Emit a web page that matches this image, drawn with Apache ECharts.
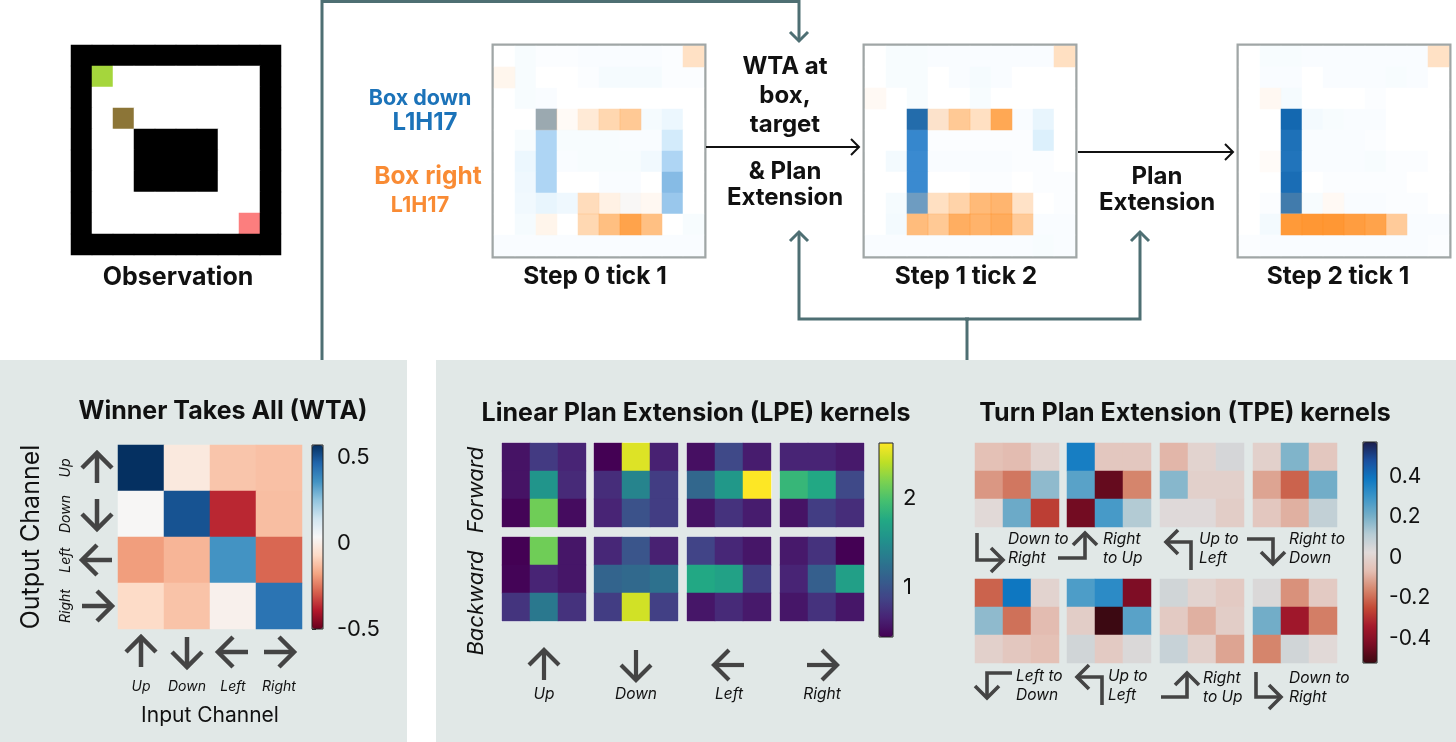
<!DOCTYPE html>
<html>
<head>
<meta charset="utf-8">
<script src="https://cdn.jsdelivr.net/npm/echarts@6/dist/echarts.min.js"></script>
<style>
  html, body { margin: 0; padding: 0; background: #fff; }
  #main { width: 1456px; height: 742px; }
</style>
</head>
<body>
<div id="main"></div>
<script>
// ---- data ----
// observation: 0 floor, 1 wall, 2 target, 3 box, 4 agent
const obsCodes = [
  [1,1,1,1,1,1,1,1,1,1],
  [1,2,0,0,0,0,0,0,0,1],
  [1,0,0,0,0,0,0,0,0,1],
  [1,0,3,0,0,0,0,0,0,1],
  [1,0,0,1,1,1,1,0,0,1],
  [1,0,0,1,1,1,1,0,0,1],
  [1,0,0,1,1,1,1,0,0,1],
  [1,0,0,0,0,0,0,0,0,1],
  [1,0,0,0,0,0,0,0,4,1],
  [1,1,1,1,1,1,1,1,1,1]
];
const obsColors = ['#ffffff', '#000000', '#a5d63c', '#8c7537', '#fc7e7e'];

const stepTitles = ['Step 0 tick 1', 'Step 1 tick 2', 'Step 2 tick 1'];

// "Box down" probe (blue) and "Box right" probe (orange), 10x10
const step0Down = [
  [0,.04,.02,.02,.03,.03,.03,.03,.02,0],
  [0,.04,0,0,.02,.05,.05,.05,.02,.02],
  [0,.04,.03,0,0,0,0,0,0,0],
  [0,0,.6,0,0,0,0,.05,.1,0],
  [0,.04,.38,.04,.04,.04,.03,.03,.22,0],
  [0,.1,.38,.03,.04,.04,.04,.07,.38,0],
  [0,.08,.38,0,0,.03,.03,0,.55,0],
  [0,.07,.12,.08,0,0,.03,0,.47,0],
  [0,.05,0,0,0,0,0,0,0,.04],
  [.03,.03,.03,.03,.03,.03,.03,.03,.03,.03]
];
const step0Right = [
  [0,0,0,0,0,0,0,0,0,.26],
  [.08,0,0,0,0,0,0,0,0,0],
  [0,0,0,0,0,0,0,0,0,0],
  [0,0,.25,.04,.18,.35,.47,0,0,0],
  [0,0,0,0,0,0,0,0,0,0],
  [0,0,0,0,0,0,0,0,0,0],
  [0,0,0,0,0,0,0,0,0,0],
  [0,0,0,0,.3,.12,.04,.06,0,0],
  [0,0,.09,0,.34,.56,.8,.55,0,0],
  [0,0,0,0,0,0,0,0,0,0]
];
const step1Down = [
  [0,.04,.04,.03,.03,.03,.03,.03,.03,0],
  [0,.04,.04,0,.03,.05,.03,0,0,0],
  [0,0,.04,0,0,.04,0,0,0,0],
  [0,0,.98,.02,0,0,0,.03,.12,0],
  [0,0,.82,.02,.02,.02,.02,.02,.18,0],
  [0,.06,.8,.03,.03,.03,.03,.02,.02,0],
  [0,0,.8,0,0,.02,.02,0,.02,.02],
  [0,.05,.7,0,0,0,0,0,0,.02],
  [0,.06,0,0,0,0,0,0,.03,.03],
  [.03,.03,.03,.03,.03,.03,.03,.03,.04,.03]
];
const step1Right = [
  [0,0,0,0,0,0,0,0,0,.27],
  [0,0,0,0,0,0,0,0,0,0],
  [.05,0,0,0,0,0,0,0,0,0],
  [0,0,.05,.23,.47,.27,.76,0,0,0],
  [0,0,0,0,0,0,0,0,0,0],
  [0,0,0,0,0,0,0,0,0,0],
  [0,0,0,0,0,0,0,0,0,0],
  [0,0,.12,.27,.38,.6,.64,.25,0,0],
  [0,0,.58,.47,.7,.66,.72,.46,0,0],
  [0,0,0,0,0,0,0,0,0,0]
];
const step2Down = [
  [0,.04,.04,.03,.03,.03,.03,.03,.03,0],
  [0,.03,.03,0,.03,.03,.03,.04,.03,0],
  [0,0,.05,0,0,0,.02,0,0,0],
  [0,0,1,.06,.04,.03,.03,0,0,0],
  [0,0,.95,.03,.03,.03,.02,0,0,0],
  [0,0,.93,.03,.03,.03,.04,.02,.02,0],
  [0,0,.97,0,.02,.02,.02,.02,0,0],
  [0,.02,.9,.04,0,.03,.03,.02,.02,0],
  [0,.06,0,0,0,0,0,0,.03,.03],
  [.02,.03,.03,.03,.03,.03,.03,.03,.03,.02]
];
const step2Right = [
  [0,0,0,0,0,0,0,0,0,.26],
  [0,0,0,0,0,0,0,0,0,0],
  [0,.06,0,0,0,0,0,0,0,0],
  [0,0,0,0,0,0,0,0,0,0],
  [0,0,0,0,0,0,0,0,0,0],
  [0,.03,0,0,0,0,0,0,0,0],
  [0,0,0,0,0,0,0,0,0,0],
  [0,0,.12,0,.05,0,0,0,0,0],
  [0,0,.88,.9,.9,.85,.8,.45,0,0],
  [0,0,0,0,0,0,0,0,0,0]
];

const dirLabels = ['Up', 'Down', 'Left', 'Right'];

// WTA: rows = output channel, cols = input channel
const wtaValues = [
  [0.57, -0.02, -0.115, -0.125],
  [0.03, 0.50, -0.37, -0.13],
  [-0.19, -0.147, 0.356, -0.275],
  [-0.07, -0.12, 0.01, 0.43]
];
const wtaTicks = [-0.5, 0, 0.5];

const lpeRows = ['Forward', 'Backward'];
const lpeForward = [
  [[0.55,0.81,0.66],[0.55,1.57,0.70],[0.46,2.14,0.51]],
  [[0.44,2.51,0.64],[0.72,1.42,0.83],[0.66,0.99,0.83]],
  [[0.53,0.92,0.61],[1.16,1.60,2.62],[0.55,0.75,0.61]],
  [[0.66,0.66,0.59],[1.88,1.75,0.92],[0.55,0.83,0.72]]
];
const lpeBackward = [
  [[0.44,2.14,0.57],[0.46,0.66,0.57],[0.77,1.31,0.75]],
  [[0.68,1.01,0.64],[1.14,1.18,1.25],[0.83,2.47,0.85]],
  [[0.88,0.68,0.57],[1.75,1.68,0.83],[0.57,0.70,0.59]],
  [[0.59,0.75,0.44],[0.66,1.09,1.66],[0.57,0.75,0.57]]
];
const lpeTicks = [1, 2];

const tpeTop = [
  [[-0.06,-0.07,0.0],[-0.13,-0.18,0.17],[0.02,0.22,-0.27]],
  [[0.37,-0.04,-0.04],[0.25,-0.46,-0.16],[-0.44,0.28,0.12]],
  [[-0.08,0.0,0.05],[0.18,-0.01,-0.01],[0.03,0.03,-0.02]],
  [[-0.01,0.19,-0.04],[-0.11,-0.21,0.21],[-0.04,-0.09,0.09]]
];
const tpeBottom = [
  [[-0.21,0.39,0.0],[0.17,-0.19,-0.07],[-0.01,-0.04,-0.06]],
  [[0.27,0.33,-0.42],[-0.02,-0.52,0.25],[0.06,-0.03,0.04]],
  [[0.06,0.0,-0.03],[-0.03,-0.09,-0.02],[0.08,-0.01,-0.11]],
  [[0.04,-0.14,-0.03],[0.21,-0.35,-0.17],[-0.16,0.06,0.02]]
];
const tpeTopLabels = ['Down to\nRight', 'Right\nto Up', 'Up to\nLeft', 'Right to\nDown'];
const tpeBottomLabels = ['Left to\nDown', 'Up to\nLeft', 'Right\nto Up', 'Down to\nRight'];
const tpeTicks = [-0.4, -0.2, 0, 0.2, 0.4];

// ---- styling ----
const FONT = 'Inter, "Noto Sans", sans-serif';
const INK = '#111';
const ARROW = '#444';
const LINK = '#4e6f73';
const PANEL = '#e1e8e7';
const BLUE_TXT = '#1c73b9';
const ORANGE_TXT = '#f98b34';

const rdbu = ['#67001f','#b2182b','#d6604d','#f4a582','#fddbc7','#f7f7f7','#d1e5f0','#92c5de','#4393c3','#2166ac','#053061'];
const viridis = ['#440154','#482475','#414487','#355f8d','#2a788e','#21918c','#22a884','#44bf70','#7ad151','#bddf26','#fde725'];
const balance = ['#3c0912','#7a0c24','#a5192c','#c44a36','#d6876e','#e4bfb4','#e1dad9','#b6ccd5','#74aec8','#3c95c8','#0e78c2','#1a4f9e','#1b1d4c'];

const grids = [], xAxes = [], yAxes = [], series = [], graphics = [];

function addGrid(box, rows, cols, gridOpt, xOpt, yOpt) {
  const idx = grids.length;
  grids.push(Object.assign({ left: box.x, top: box.y, width: box.w, height: box.h, show: false }, gridOpt || {}));
  xAxes.push(Object.assign({ gridIndex: idx, type: 'category', data: [...Array(cols).keys()], show: false }, xOpt || {}));
  yAxes.push(Object.assign({ gridIndex: idx, type: 'category', data: [...Array(rows).keys()], inverse: true, show: false }, yOpt || {}));
  return idx;
}

function addHeat(gridIdx, matrix) {
  const data = [];
  matrix.forEach((row, r) => row.forEach((v, c) => data.push([c, r, v])));
  series.push({
    type: 'heatmap', xAxisIndex: gridIdx, yAxisIndex: gridIdx, data,
    itemStyle: { borderWidth: 0 }, emphasis: { disabled: true }, silent: true, progressive: 0
  });
  return series.length - 1;
}

function colorbarAxis(box, min, max, ticks, fontSize, margin) {
  const idx = grids.length;
  grids.push({ left: box.x, top: box.y, width: box.w, height: box.h, show: true,
    borderColor: '#222', borderWidth: 1, backgroundColor: 'transparent', z: 10 });
  xAxes.push({ gridIndex: idx, type: 'value', show: false, min: 0, max: 1 });
  yAxes.push({
    gridIndex: idx, type: 'value', position: 'right', min, max,
    axisLine: { show: false }, splitLine: { show: false },
    axisTick: { show: true, length: 4, customValues: ticks, lineStyle: { color: '#333' } },
    axisLabel: { customValues: ticks, fontSize, margin, color: INK, fontFamily: FONT,
      formatter: v => String(Math.round(v * 10) / 10) }
  });
}

function textEl(text, x, y, style, rotation) {
  return {
    type: 'text', x, y, rotation: rotation || 0, z: 30, silent: true,
    style: Object.assign({ text, fill: INK, fontFamily: FONT, fontSize: 24, fontWeight: 'bold',
      align: 'center', verticalAlign: 'middle' }, style || {})
  };
}

function line(points, color, lw) {
  return { type: 'polyline', z: 25, silent: true, shape: { points },
    style: { stroke: color, lineWidth: lw, fill: null, lineJoin: 'miter', lineCap: 'butt' } };
}

function head(x, y, dir, s, color, lw) {
  const p = {
    up: [[x - s, y + s], [x, y], [x + s, y + s]],
    down: [[x - s, y - s], [x, y], [x + s, y - s]],
    left: [[x + s, y - s], [x, y], [x + s, y + s]],
    right: [[x - s, y - s], [x, y], [x - s, y + s]]
  }[dir];
  return line(p, color, lw);
}

function pathArrow(points, dir, s, color, lw) {
  const tip = points[points.length - 1];
  graphics.push(line(points, color, lw), head(tip[0], tip[1], dir, s, color, lw));
}

function straightArrow(cx, cy, dir, len, s, lw) {
  const h = len / 2;
  const pts = {
    up: [[cx, cy + h], [cx, cy - h]], down: [[cx, cy - h], [cx, cy + h]],
    left: [[cx + h, cy], [cx - h, cy]], right: [[cx - h, cy], [cx + h, cy]]
  }[dir];
  pathArrow(pts, dir, s, ARROW, lw);
}

// ---- panels ----
graphics.push({ type: 'rect', z: -10, silent: true, shape: { x: 0, y: 360, width: 407, height: 382 }, style: { fill: PANEL } });
graphics.push({ type: 'rect', z: -10, silent: true, shape: { x: 436, y: 360, width: 1020, height: 382 }, style: { fill: PANEL } });

// ---- observation ----
const obsGrid = addGrid({ x: 71, y: 45, w: 210, h: 210 }, 10, 10);
const obsSeries = addHeat(obsGrid, obsCodes);
graphics.push(textEl('Observation', 178, 277, { fontSize: 25 }));

// ---- activation steps ----
const stepLeft = [494, 865, 1239];
const stepCenters = [595, 966, 1338];
const downMaps = [step0Down, step1Down, step2Down];
const rightMaps = [step0Right, step1Right, step2Right];
const blueSeries = [], orangeSeries = [];
stepLeft.forEach((x, i) => {
  const g = addGrid({ x, y: 46, w: 210, h: 210 }, 10, 10,
    { show: true, borderColor: '#a0a6a6', borderWidth: 5, backgroundColor: '#fff' });
  blueSeries.push(addHeat(g, downMaps[i]));
  orangeSeries.push(addHeat(g, rightMaps[i]));
  graphics.push(textEl(stepTitles[i], stepCenters[i], 277, { fontSize: 24.5 }));
});

graphics.push(textEl('Box down', 420, 99, { fill: BLUE_TXT, fontSize: 21.5 }));
graphics.push(textEl('L1H17', 425, 123, { fill: BLUE_TXT, fontSize: 24 }));
graphics.push(textEl('Box right', 428, 177, { fill: ORANGE_TXT, fontSize: 24.5 }));
graphics.push(textEl('L1H17', 420, 206, { fill: ORANGE_TXT, fontSize: 21.5 }));

['WTA at', 'box,', 'target'].forEach((t, i) => graphics.push(textEl(t, 785, 67 + i * 29)));
graphics.push(textEl('& Plan', 785, 172));
graphics.push(textEl('Extension', 785, 198));
graphics.push(textEl('Plan', 1157, 177));
graphics.push(textEl('Extension', 1157, 203));

pathArrow([[706, 147], [859, 147]], 'right', 8, INK, 2);
pathArrow([[1078, 152], [1233, 152]], 'right', 8, INK, 2);

// connectors
pathArrow([[322, 360], [322, 1.5], [799, 1.5], [799, 41]], 'down', 9, LINK, 3);
graphics.push(line([[967, 360], [967, 319]], LINK, 3));
pathArrow([[969, 319], [799, 319], [799, 232]], 'up', 9, LINK, 3);
pathArrow([[965, 319], [1140, 319], [1140, 232]], 'up', 9, LINK, 3);

// ---- WTA ----
const WTA = { x: 118, y: 445, w: 184, h: 184 };
const wtaGrid = addGrid(WTA, 4, 4, {},
  { show: true, data: dirLabels, axisLine: { show: false }, axisTick: { show: false },
    axisLabel: { interval: 0, fontStyle: 'italic', fontSize: 14, margin: 51, color: INK, fontFamily: FONT },
    name: 'Input Channel', nameLocation: 'middle', nameGap: 76,
    nameTextStyle: { fontSize: 21, color: INK, fontFamily: FONT } },
  { show: true, data: dirLabels, axisLine: { show: false }, axisTick: { show: false },
    axisLabel: { interval: 0, fontStyle: 'italic', fontSize: 14, margin: 45, rotate: 90, color: INK, fontFamily: FONT },
    name: 'Output Channel', nameLocation: 'middle', nameGap: 74, nameRotate: 90,
    nameTextStyle: { fontSize: 25, color: INK, fontFamily: FONT } });
const wtaSeries = addHeat(wtaGrid, wtaValues);
graphics.push(textEl('Winner Takes All (WTA)', 223, 411, { fontSize: 25 }));
colorbarAxis({ x: 312, y: 445, w: 11, h: 184 }, -0.5, 0.57, wtaTicks, 22, 14);
const dirKeys = ['up', 'down', 'left', 'right'];
dirKeys.forEach((d, i) => {
  straightArrow(97, WTA.y + WTA.h / 8 + i * WTA.h / 4, d, 30, 15, 4.5);
  straightArrow(WTA.x + WTA.w / 8 + i * WTA.w / 4, 652, d, 30, 15, 4.5);
});

// ---- LPE ----
const lpeX = [502, 594, 687, 780];
const lpeY = [443, 537];
const lpeSeries = [];
[lpeForward, lpeBackward].forEach((blocks, r) => {
  blocks.forEach((m, c) => {
    const g = addGrid({ x: lpeX[c], y: lpeY[r], w: 84, h: 84 }, 3, 3,
      { show: true, borderColor: 'rgba(245,248,248,0.9)', borderWidth: 2, backgroundColor: 'transparent' });
    lpeSeries.push(addHeat(g, m));
  });
  graphics.push(textEl(lpeRows[r], 476, r === 0 ? 490 : 603,
    { fontSize: 22, fontWeight: 'normal', fontStyle: 'italic' }, Math.PI / 2));
});
graphics.push(textEl('Linear Plan Extension (LPE) kernels', 696, 413, { fontSize: 25 }));
colorbarAxis({ x: 879, y: 443, w: 14, h: 194 }, 0.44, 2.62, lpeTicks, 22, 10);
dirKeys.forEach((d, i) => {
  const cx = lpeX[i] + 42;
  straightArrow(cx, 665, d, 30, 15, 4.2);
  graphics.push(textEl(dirLabels[i], cx, 694, { fontSize: 15.5, fontWeight: 'normal', fontStyle: 'italic' }));
});

// ---- TPE ----
const tpeX = [975, 1067, 1160, 1253];
const tpeY = [443, 579];
const tpeSeries = [];
[tpeTop, tpeBottom].forEach((blocks, r) => {
  blocks.forEach((m, c) => {
    const g = addGrid({ x: tpeX[c], y: tpeY[r], w: 84, h: 84 }, 3, 3);
    tpeSeries.push(addHeat(g, m));
  });
});
graphics.push(textEl('Turn Plan Extension (TPE) kernels', 1185, 413, { fontSize: 25 }));
colorbarAxis({ x: 1363, y: 442, w: 14, h: 221 }, -0.52, 0.57, tpeTicks, 21, 12);

const labStyle = { fontSize: 15.5, fontWeight: 'normal', fontStyle: 'italic', align: 'left', lineHeight: 19 };
[[1008, 549], [1103, 549], [1199, 549], [1289, 549]].forEach((p, i) =>
  graphics.push(textEl(tpeTopLabels[i], p[0], p[1], labStyle)));
[[1016, 686], [1108, 686], [1203, 688], [1289, 688]].forEach((p, i) =>
  graphics.push(textEl(tpeBottomLabels[i], p[0], p[1], labStyle)));

// turn arrows (icons)
pathArrow([[977, 533], [977, 560], [1003, 560]], 'right', 12, ARROW, 3.6);
pathArrow([[1058, 558], [1085, 558], [1085, 533]], 'up', 12, ARROW, 3.6);
pathArrow([[1191, 570], [1191, 542], [1166, 542]], 'left', 12, ARROW, 3.6);
pathArrow([[1247, 539], [1273, 539], [1273, 564]], 'down', 12, ARROW, 3.6);
pathArrow([[1012, 673], [987, 673], [987, 698]], 'down', 12, ARROW, 3.6);
pathArrow([[1102, 705], [1102, 677], [1077, 677]], 'left', 12, ARROW, 3.6);
pathArrow([[1161, 697], [1187, 697], [1187, 673]], 'up', 12, ARROW, 3.6);
pathArrow([[1256, 672], [1256, 697], [1281, 697]], 'right', 12, ARROW, 3.6);

// ---- chart ----
const chart = echarts.init(document.getElementById('main'), null, { renderer: 'canvas' });
chart.setOption({
  backgroundColor: '#ffffff',
  animation: false,
  textStyle: { fontFamily: FONT },
  grid: grids,
  xAxis: xAxes,
  yAxis: yAxes,
  visualMap: [
    { type: 'piecewise', show: false, seriesIndex: obsSeries, dimension: 2,
      pieces: obsColors.map((c, i) => ({ value: i, color: c })) },
    { type: 'continuous', show: false, seriesIndex: blueSeries, dimension: 2, min: 0, max: 1,
      inRange: { color: ['#ffffff', '#d8eefc', '#a9d2f3', '#7ab3e0', '#3a8ad0', '#1468b0'] } },
    { type: 'continuous', show: false, seriesIndex: orangeSeries, dimension: 2, min: 0, max: 1,
      inRange: { color: ['rgba(255,140,30,0)', 'rgba(255,140,30,1)'] } },
    { type: 'continuous', seriesIndex: wtaSeries, dimension: 2, min: -0.5, max: 0.57,
      left: 312, top: 445, itemWidth: 11, itemHeight: 184, padding: 0, calculable: false,
      hoverLink: false, inRange: { color: rdbu } },
    { type: 'continuous', seriesIndex: lpeSeries, dimension: 2, min: 0.44, max: 2.62,
      left: 879, top: 443, itemWidth: 14, itemHeight: 194, padding: 0, calculable: false,
      hoverLink: false, inRange: { color: viridis } },
    { type: 'continuous', seriesIndex: tpeSeries, dimension: 2, min: -0.52, max: 0.57,
      left: 1363, top: 442, itemWidth: 14, itemHeight: 221, padding: 0, calculable: false,
      hoverLink: false, inRange: { color: balance } }
  ],
  graphic: { elements: graphics },
  series
});
</script>
</body>
</html>
